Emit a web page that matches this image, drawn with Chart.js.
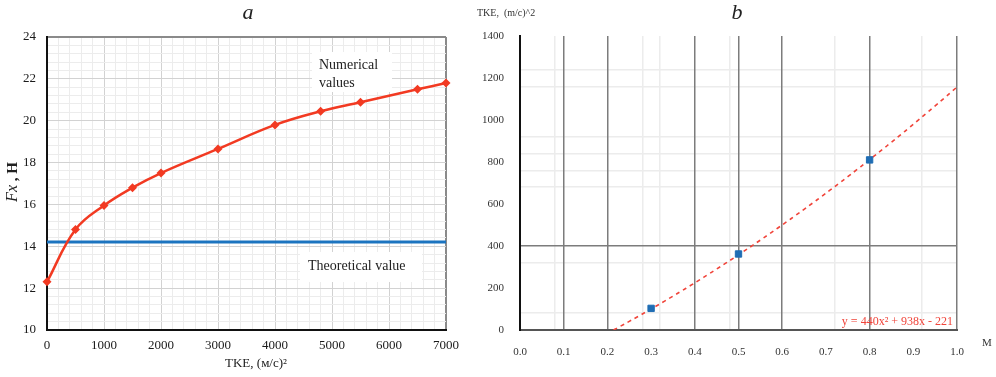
<!DOCTYPE html>
<html>
<head>
<meta charset="utf-8">
<script src="https://cdn.jsdelivr.net/npm/chart.js@4.4.0/dist/chart.umd.min.js"></script>
<style>
  body { margin: 0; background: #fff; }
  #wrap { position: relative; width: 996px; height: 377px; overflow: hidden; }
  #left { position: absolute; left: 0; top: 0; }
  #right { position: absolute; left: 470px; top: 0; }
</style>
</head>
<body>
<div id="wrap">
  <canvas id="left" width="470" height="377"></canvas>
  <canvas id="right" width="526" height="377"></canvas>
</div>
<script>
// (a) side force against turbulent kinetic energy
const tkeLevels = [0, 500, 1000, 1500, 2000, 3000, 4000, 4800, 5500, 6500, 7000];
const forceNumerical = [12.3, 14.8, 15.95, 16.8, 17.5, 18.65, 19.8, 20.45, 20.88, 21.5, 21.8];
const tkeRange = [0, 7000];
const forceTheoretical = [14.2, 14.2];

// (b) TKE against Mach number
const machValues = [0.3, 0.5, 0.8];
const tkeValues = [103, 362, 810];
const fitCoef = [440, 938, -221]; // y = a*x^2 + b*x + c
const fitLabel = 'y = 440x\u00b2 + 938x - 221';

// grid lines of panel b
const darkGridX = [0.1, 0.2, 0.4, 0.5, 0.6, 0.8, 1.0];
const lightGridX = [0.08, 0.28, 0.32, 0.48, 0.72, 0.92];
const darkGridY = [400];
const lightGridY = [80, 320, 680, 760, 840, 920, 1160, 1240];

const SERIF = "'Liberation Serif', 'DejaVu Serif', serif";
const RED = '#f23a22';
const BLUE = '#1c74c0';

const toPoints = (xs, ys) => xs.map((x, i) => ({ x: x, y: ys[i] }));

function stepTicks(scale, from, to, step) {
  const out = [];
  const n = Math.round((to - from) / step);
  for (let k = 0; k <= n; k++) out.push({ value: +(from + k * step).toFixed(4) });
  scale.ticks = out;
}

// ---------- panel a ----------
const isMajor = (v, every) => Math.abs(v / every - Math.round(v / every)) < 1e-6;

const panelALabels = {
  id: 'panelALabels',
  beforeDatasetsDraw(chart) {
    const ctx = chart.ctx;
    ctx.save();
    ctx.fillStyle = '#fff';
    ctx.fillRect(312, 52, 80, 40);
    ctx.fillRect(300, 252, 122, 30);
    ctx.fillStyle = '#222';
    ctx.font = '14px ' + SERIF;
    ctx.textBaseline = 'middle';
    ctx.textAlign = 'left';
    ctx.fillText('Numerical', 319, 65);
    ctx.fillText('values', 319, 83);
    ctx.fillText('Theoretical value', 308, 266);
    ctx.restore();
  },
  afterDraw(chart) {
    const ctx = chart.ctx;
    ctx.save();
    ctx.fillStyle = '#222';
    ctx.textBaseline = 'middle';
    ctx.textAlign = 'center';
    ctx.font = 'italic 22px ' + SERIF;
    ctx.fillText('a', 248, 13);
    ctx.font = '13px ' + SERIF;
    ctx.fillText('TKE, (\u043c/\u0441)\u00b2', 256, 364);

    // rotated y title: italic "Fx" and bold ", H"
    ctx.translate(13, 182);
    ctx.rotate(-Math.PI / 2);
    ctx.textAlign = 'left';
    const a = 'Fx', b = ' , H';
    ctx.font = 'italic 16px ' + SERIF;
    const wa = ctx.measureText(a).width;
    ctx.font = 'bold 15px ' + SERIF;
    const wb = ctx.measureText(b).width;
    let x0 = -(wa + wb) / 2;
    ctx.font = 'italic 16px ' + SERIF;
    ctx.fillText(a, x0, 0);
    ctx.font = 'bold 15px ' + SERIF;
    ctx.fillText(b, x0 + wa, 0);
    ctx.restore();
  }
};

new Chart(document.getElementById('left'), {
  type: 'line',
  data: {
    datasets: [
      {
        label: 'Numerical values',
        data: toPoints(tkeLevels, forceNumerical),
        borderColor: RED,
        backgroundColor: RED,
        borderWidth: 2.5,
        pointStyle: 'rectRot',
        pointRadius: 4.5,
        pointBorderWidth: 0,
        tension: 0.4,
        clip: false
      },
      {
        label: 'Theoretical value',
        data: toPoints(tkeRange, forceTheoretical),
        borderColor: BLUE,
        borderWidth: 3,
        pointRadius: 0
      }
    ]
  },
  options: {
    responsive: false,
    animation: false,
    devicePixelRatio: 1,
    layout: { padding: { left: 0, top: 37, right: 24, bottom: 0 } },
    plugins: { legend: { display: false }, tooltip: { enabled: false } },
    scales: {
      x: {
        type: 'linear',
        min: 0, max: 7000,
        afterBuildTicks: s => stepTicks(s, 0, 7000, 200),
        afterFit: s => { s.height = 47; },
        ticks: {
          autoSkip: false, maxRotation: 0, padding: 8, color: '#1a1a1a',
          font: { family: SERIF, size: 13 },
          callback: v => isMajor(v, 1000) ? String(v) : ''
        },
        grid: {
          drawTicks: false,
          color: c => c.tick.value === 7000 ? '#8a8a8a' : (isMajor(c.tick.value, 1000) ? '#d2d2d2' : '#ececec'),
          lineWidth: c => c.tick.value === 7000 ? 2 : 1
        },
        border: { color: '#111', width: 2 }
      },
      y: {
        min: 10, max: 24,
        afterBuildTicks: s => stepTicks(s, 10, 24, 0.4),
        afterFit: s => { s.width = 47; },
        ticks: {
          autoSkip: false, padding: 11, color: '#1a1a1a',
          font: { family: SERIF, size: 13 },
          callback: v => isMajor(v, 2) ? String(Math.round(v)) : ''
        },
        grid: {
          drawTicks: false,
          color: c => c.tick.value === 24 ? '#8a8a8a' : (isMajor(c.tick.value, 2) ? '#d2d2d2' : '#ececec'),
          lineWidth: c => c.tick.value === 24 ? 2 : 1
        },
        border: { color: '#111', width: 2 }
      }
    }
  },
  plugins: [panelALabels]
});

// ---------- panel b ----------
const fitY = x => fitCoef[0] * x * x + fitCoef[1] * x + fitCoef[2];
const fitRoot = (-fitCoef[1] + Math.sqrt(fitCoef[1] * fitCoef[1] - 4 * fitCoef[0] * fitCoef[2])) / (2 * fitCoef[0]);
const fitCurve = [{ x: fitRoot, y: 0 }];
for (let x = 0.22; x < 1.0001; x += 0.02) fitCurve.push({ x: +x.toFixed(2), y: fitY(+x.toFixed(2)) });

const gridScale = (axis, values, color, lo, hi) => ({
  axis: axis,
  type: 'linear',
  position: axis === 'x' ? 'bottom' : 'left',
  min: lo, max: hi,
  afterBuildTicks: s => { s.ticks = values.map(v => ({ value: v })); },
  afterFit: s => { if (axis === 'x') s.height = 0; else s.width = 0; },
  ticks: { display: false },
  border: { display: false },
  grid: { drawTicks: false, color: color, lineWidth: 1.5 }
});

const panelBLabels = {
  id: 'panelBLabels',
  afterDraw(chart) {
    const ctx = chart.ctx;
    const area = chart.chartArea;
    ctx.save();
    ctx.textBaseline = 'middle';
    ctx.fillStyle = '#333';
    ctx.textAlign = 'left';
    ctx.font = '10px ' + SERIF;
    ctx.fillText('TKE,  (m/c)^2', 7, 13);
    ctx.font = '11px ' + SERIF;
    ctx.fillText('M', 512, 343);
    ctx.fillStyle = '#222';
    ctx.textAlign = 'center';
    ctx.font = 'italic 22px ' + SERIF;
    ctx.fillText('b', 267, 13);
    ctx.fillStyle = '#f0443a';
    ctx.textAlign = 'right';
    ctx.font = '12px ' + SERIF;
    ctx.fillText(fitLabel, area.right - 4, 322);
    ctx.restore();
  }
};

new Chart(document.getElementById('right'), {
  type: 'scatter',
  data: {
    datasets: [
      {
        label: 'TKE',
        data: toPoints(machValues, tkeValues),
        pointStyle: 'rect',
        pointRadius: 4.5,
        backgroundColor: '#1f6db4',
        borderColor: '#1f6db4',
        order: 0
      },
      {
        type: 'line',
        label: 'fit',
        data: fitCurve,
        borderColor: '#f0443a',
        borderWidth: 1.6,
        borderDash: [4, 4],
        pointRadius: 0,
        tension: 0.3,
        order: 1
      }
    ]
  },
  options: {
    responsive: false,
    animation: false,
    devicePixelRatio: 1,
    layout: { padding: { left: 0, top: 36, right: 39, bottom: 0 } },
    plugins: { legend: { display: false }, tooltip: { enabled: false } },
    scales: {
      xLight: gridScale('x', lightGridX, '#ececec', 0, 1),
      yLight: gridScale('y', lightGridY, '#ececec', 0, 1400),
      xDark: gridScale('x', darkGridX, '#7c7c7c', 0, 1),
      yDark: gridScale('y', darkGridY, '#7c7c7c', 0, 1400),
      x: {
        type: 'linear',
        min: 0, max: 1,
        afterBuildTicks: s => stepTicks(s, 0, 1, 0.1),
        afterFit: s => { s.height = 47; },
        ticks: {
          autoSkip: false, maxRotation: 0, padding: 8, color: '#333',
          font: { family: SERIF, size: 11 },
          callback: v => v.toFixed(1)
        },
        grid: { display: false },
        border: { color: '#555', width: 2 }
      },
      y: {
        type: 'linear',
        min: 0, max: 1400,
        afterBuildTicks: s => stepTicks(s, 0, 1400, 200),
        afterFit: s => { s.width = 50; },
        ticks: {
          autoSkip: false, padding: 8, color: '#333',
          font: { family: SERIF, size: 11 },
          callback: v => String(v)
        },
        grid: { display: false },
        border: { color: '#111', width: 2 }
      }
    }
  },
  plugins: [panelBLabels]
});
</script>
</body>
</html>
